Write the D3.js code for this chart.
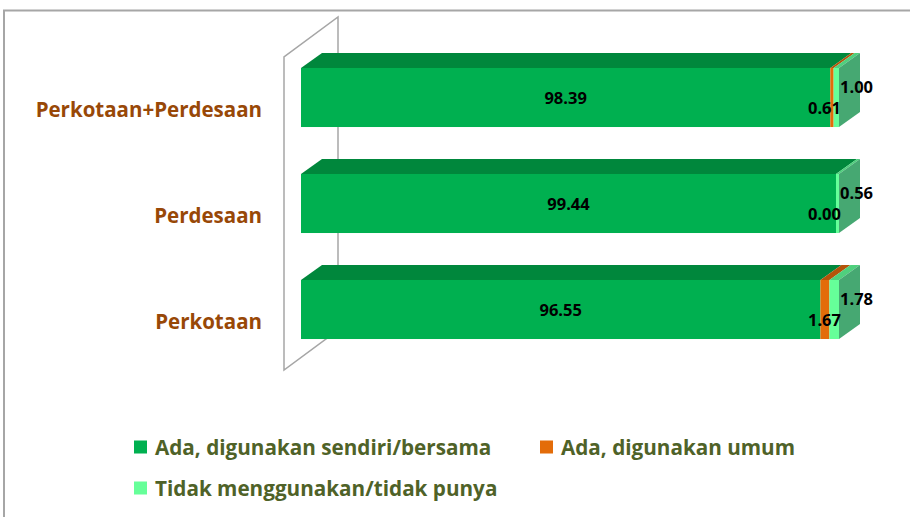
<!DOCTYPE html>
<html>
<head>
<meta charset="utf-8">
<script src="https://cdn.jsdelivr.net/npm/d3@7"></script>
<style>
  body { margin: 0; background: #fff; }
  svg { display: block; font-family: "Open Sans", Lato, sans-serif; }
</style>
</head>
<body>
<svg id="chart"></svg>
<script>
let categories = ["Perkotaan+Perdesaan", "Perdesaan", "Perkotaan"]
let seriesNames = ["Ada, digunakan sendiri/bersama", "Ada, digunakan umum", "Tidak menggunakan/tidak punya"]
let sendiri = [98.39, 99.44, 96.55]
let umum = [0.61, 0.00, 1.67]
let tidak = [1.00, 0.56, 1.78]

let width = 910
let height = 517

let front = ["#00B050", "#E36C09", "#66FF99"]
let topCol = ["#00873C", "#B4530A", "#4FD07D"]
let sideCol = "#46A872"

// depth of the bars and of the back wall
let dx = 21, dy = -15
let wdx = 54, wdy = -40

let svg = d3.select('#chart').attr('width', width).attr('height', height)

// frame (only top and left edges show)
svg.append('path')
  .attr('d', 'M4,' + (height + 5) + ' L4,10.5 L' + (width + 5) + ',10.5')
  .attr('fill', 'none').attr('stroke', '#A6A6A6').attr('stroke-width', 2)

let xScale = d3.scaleLinear().domain([0, 100]).range([301, 839])
let yScale = d3.scaleBand().domain(categories).range([44.5, 362.5])
  .paddingInner(0.443).paddingOuter(0.2215)

// back wall
let wx = xScale(0) - 17
let wTop = 57, wBot = 370
svg.append('path')
  .attr('d', 'M' + wx + ',' + wBot + ' L' + wx + ',' + wTop +
    ' L' + (wx + wdx) + ',' + (wTop + wdy) + ' L' + (wx + wdx) + ',' + (wBot + wdy) + ' Z')
  .attr('fill', 'none').attr('stroke', '#A6A6A6').attr('stroke-width', 1.5)

let rows = categories.map((c, i) => {
  let vals = [sendiri[i], umum[i], tidak[i]]
  let start = 0
  let segs = vals.map((v, k) => {
    let s = { k: k, x0: start, x1: start + v, v: v }
    start += v
    return s
  })
  return { cat: c, segs: segs }
})

let bars = svg.selectAll('g.bar').data(rows).enter().append('g').attr('class', 'bar')

bars.each(function (row) {
  let g = d3.select(this)
  let y0 = yScale(row.cat)
  let h = yScale.bandwidth()
  row.segs.forEach(s => {
    if (s.v <= 0) return
    let a = xScale(s.x0), b = xScale(s.x1)
    g.append('path')
      .attr('d', 'M' + a + ',' + y0 + ' L' + (a + dx) + ',' + (y0 + dy) +
        ' L' + (b + dx) + ',' + (y0 + dy) + ' L' + b + ',' + y0 + ' Z')
      .attr('fill', topCol[s.k])
    g.append('rect')
      .attr('x', a).attr('y', y0)
      .attr('width', b - a).attr('height', h)
      .attr('fill', front[s.k])
  })
  let e = xScale(row.segs[2].x1)
  g.append('path')
    .attr('d', 'M' + e + ',' + y0 + ' L' + (e + dx) + ',' + (y0 + dy) +
      ' L' + (e + dx) + ',' + (y0 + h + dy) + ' L' + e + ',' + (y0 + h) + ' Z')
    .attr('fill', sideCol)

  let cy = y0 + h / 2
  let main = row.segs[0]
  g.append('text')
    .attr('x', (xScale(main.x0) + xScale(main.x1)) / 2).attr('y', cy + 6)
    .attr('text-anchor', 'middle')
    .attr('font-size', 16.5).attr('font-weight', 700).attr('fill', '#000')
    .text(main.v.toFixed(2))
  g.append('text')
    .attr('x', e + 2).attr('y', cy + 16)
    .attr('text-anchor', 'end')
    .attr('font-size', 16.5).attr('font-weight', 700).attr('fill', '#000')
    .text(row.segs[1].v.toFixed(2))
  g.append('text')
    .attr('x', e + 1).attr('y', cy - 5)
    .attr('font-size', 16.5).attr('font-weight', 700).attr('fill', '#000')
    .text(row.segs[2].v.toFixed(2))
})

// category labels
svg.selectAll('text.cat').data(categories).enter().append('text')
  .attr('class', 'cat')
  .attr('x', 262)
  .attr('y', d => yScale(d) + yScale.bandwidth() / 2 + 19.5)
  .attr('text-anchor', 'end')
  .attr('font-size', 20.5).attr('font-weight', 700).attr('fill', '#984807')
  .text(d => d)

// legend
let legendPos = [[134, 447], [540, 447], [134, 488]]
let leg = svg.selectAll('g.leg').data(seriesNames).enter().append('g')
  .attr('class', 'leg')
  .attr('transform', (d, i) => 'translate(' + legendPos[i][0] + ',' + legendPos[i][1] + ')')
leg.append('rect').attr('x', 0).attr('y', -6.5).attr('width', 13).attr('height', 13)
  .attr('fill', (d, i) => front[i])
leg.append('text').attr('x', 21).attr('y', 7.5)
  .attr('font-size', 20.7).attr('font-weight', 700).attr('fill', '#4F6228')
  .text(d => d)
</script>
</body>
</html>
